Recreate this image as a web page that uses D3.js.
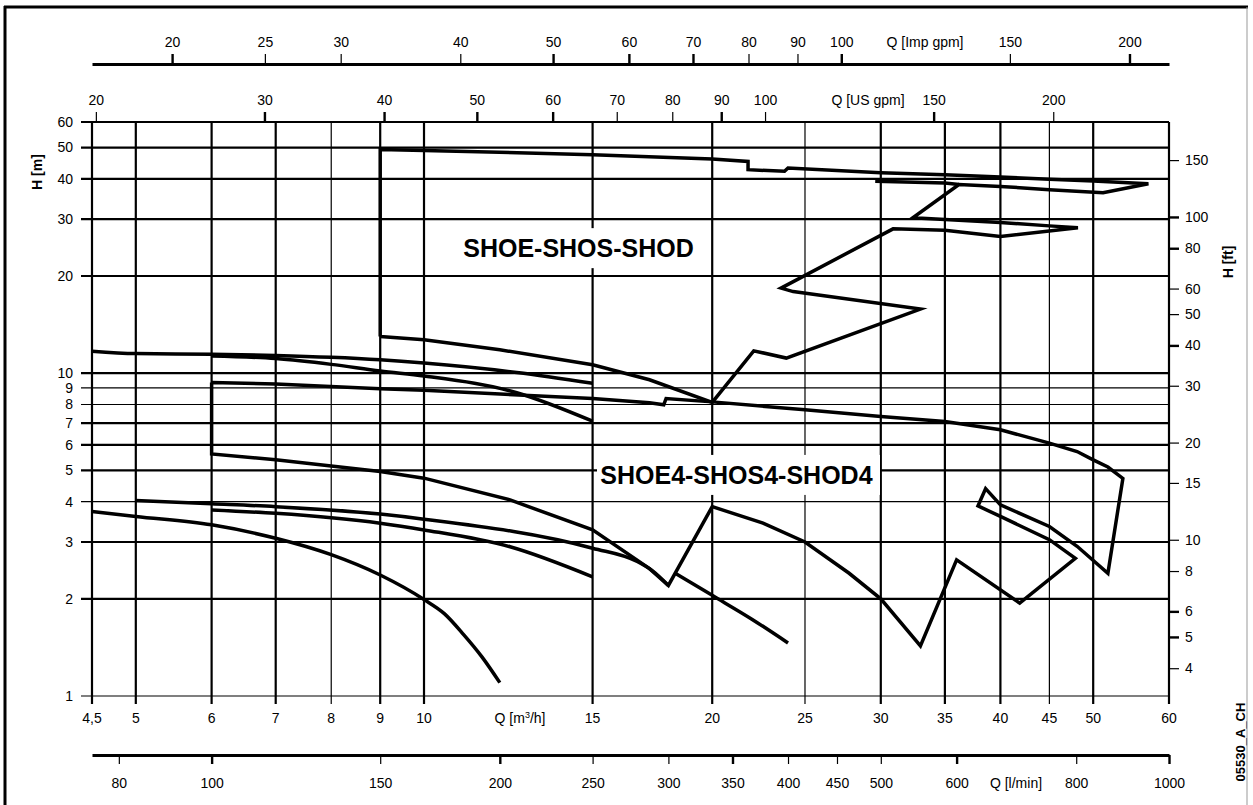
<!DOCTYPE html>
<html>
<head>
<meta charset="utf-8" />
<title></title>
<script src="https://d3js.org/d3.v7.min.js"></script>
<style>
	body {
		margin: 0;
		background: #fff;
	}

	svg text {
		font-family: "Liberation Sans", Arial, sans-serif;
		fill: #000;
	}

	.tick-label {
		font-size: 14px;
	}

	.title {
		font-size: 25px;
		font-weight: bold;
	}
</style>
</head>
<body>
<svg id="chart" width="1253" height="805"></svg>
<script>
	// flow Q [m3/h] grid
	var qTicks = [4.5, 5, 6, 7, 8, 9, 10, 15, 20, 25, 30, 35, 40, 45, 50, 60];
	var qLabels = ["4,5", "5", "6", "7", "8", "9", "10", "15", "20", "25", "30", "35", "40", "45", "50", "60"];
	var qThin = [8, 25, 45];
	// head H [m] grid
	var hTicks = [1, 2, 3, 4, 5, 6, 7, 8, 9, 10, 20, 30, 40, 50, 60];
	var hThin = [1, 4, 8, 9];
	// secondary scales
	var usTicks = [20, 30, 40, 50, 60, 70, 80, 90, 100, 150, 200];
	var impTicks = [20, 25, 30, 40, 50, 60, 70, 80, 90, 100, 150, 200];
	var lminTicks = [80, 100, 150, 200, 250, 300, 350, 400, 450, 500, 600, 800, 1000];
	var ftTicks = [150, 100, 80, 60, 50, 40, 30, 20, 15, 10, 8, 6, 5, 4];

	// curves, [Q m3/h, H m]
	var shoeOutline = [[9, 13.0], [9, 49.3], [10, 49.0], [15, 47.5], [20, 46.1], [21.8, 45.3], [21.8, 42.7], [23.8, 42.2], [24, 43.2],
		[30, 41.8], [35, 41.2], [40, 40.5], [45, 39.9], [50, 39.4], [57.1, 38.6], [51.2, 36.2], [45, 37.0], [40, 37.9], [36.2, 38.4],
		[32.4, 30.3], [40, 29.3], [45, 28.6], [48.2, 28.2], [40, 26.5], [35, 27.7], [30.9, 28.0], [23.6, 18.35], [24.3, 17.9],
		[33.0, 15.8], [23.9, 11.14], [22.1, 11.73], [20, 8.12], [17.2, 9.54], [15, 10.62], [12, 11.82], [10, 12.69], [9, 13.0]];
	var shoeStub = [[36.2, 38.4], [35, 38.8], [29.6, 39.3]];
	var shoe4Outline = [[6, 9.36], [7, 9.25], [9, 8.95], [10, 8.85], [15, 8.35], [17.2, 8.1], [17.8, 7.98], [17.9, 8.35], [20, 8.15],
		[25, 7.7], [30, 7.34], [35, 7.09], [40, 6.68], [45, 6.07], [48.1, 5.72], [50, 5.39], [51.8, 5.12], [53.7, 4.72],
		[51.8, 2.4], [48.1, 2.91], [45, 3.35], [40, 3.91], [38.6, 4.39], [37.9, 3.88], [40, 3.6], [45, 3.05], [47.9, 2.67],
		[41.9, 1.94], [36, 2.64], [33, 1.43], [30, 2.0], [27.8, 2.4], [25, 3.0], [22.6, 3.43], [20, 3.86], [18, 2.2],
		[17.2, 2.48], [15, 3.27], [12.3, 4.05], [10, 4.73], [9, 4.96], [8, 5.16], [7, 5.39], [6, 5.62], [6, 9.36]];
	var curveE1 = [[4.5, 11.7], [5, 11.5], [6, 11.45], [7, 11.35], [8, 11.2], [9, 11.0], [10, 10.75], [12.5, 10.05], [15, 9.3]];
	var curveE2 = [[6, 11.3], [7, 11.1], [8, 10.65], [9, 10.15], [10, 9.8], [12.5, 8.7], [15, 7.1]];
	var curveD1 = [[5, 4.03], [6, 3.94], [7, 3.86], [9, 3.66], [10, 3.53], [15, 2.87], [16.7, 2.61], [17.3, 2.45], [18, 2.2]];
	var curveD2 = [[6, 3.77], [7, 3.68], [9, 3.43], [10, 3.27], [12.3, 2.9], [15, 2.34]];
	var curveD3 = [[4.5, 3.73], [5, 3.6], [6, 3.39], [7, 3.08], [8, 2.74], [9, 2.37], [10, 1.99], [10.5, 1.8], [11, 1.55], [11.5, 1.32], [12, 1.1]];
	var curveD4 = [[18.3, 2.4], [20, 2.05], [22, 1.73], [24, 1.46]];

	var svg = d3.select("#chart"),
		margin = { top: 122, left: 92, bottom: 109, right: 84 },
		width = +svg.attr("width"),
		height = +svg.attr("height");

	var plotL = margin.left, plotR = width - margin.right,
		plotB = height - margin.bottom, plotT = margin.top;

	var x = d3.scaleLog().domain([4.5, 60]).range([plotL, plotR]);
	var y = d3.scaleLog().domain([1, 60]).range([plotB, plotT]);
	var xUS = d3.scaleLog().domain(x.domain().map(d => d / 0.2271)).range(x.range());
	var xImp = d3.scaleLog().domain(x.domain().map(d => d / 0.2728)).range(x.range());
	var xL = d3.scaleLog().domain(x.domain().map(d => d * 1000 / 60)).range(x.range());
	var yFt = d3.scaleLog().domain(y.domain().map(d => d * 3.28084)).range(y.range());

	// frame
	svg.append("line").attr("x1", 5).attr("x2", 5).attr("y1", 6).attr("y2", 805).attr("stroke", "#000").attr("stroke-width", 3);
	svg.append("line").attr("x1", 4).attr("x2", 1248).attr("y1", 7).attr("y2", 7).attr("stroke", "#000").attr("stroke-width", 3);
	svg.append("line").attr("x1", 1247).attr("x2", 1247).attr("y1", 7).attr("y2", 805).attr("stroke", "#999").attr("stroke-width", 1);

	// grid
	svg.append("g").selectAll("line").data(qTicks).join("line")
		.attr("x1", d => x(d)).attr("x2", d => x(d))
		.attr("y1", plotT).attr("y2", plotB + 8)
		.attr("stroke", "#000")
		.attr("stroke-width", d => qThin.includes(d) ? 1.2 : 2.2);

	svg.append("g").selectAll("line").data(hTicks).join("line")
		.attr("x1", plotL - 11).attr("x2", plotR)
		.attr("y1", d => y(d)).attr("y2", d => y(d))
		.attr("stroke", "#000")
		.attr("stroke-width", d => hThin.includes(d) ? 1.2 : 2.2);

	svg.append("g").selectAll("text").data(qTicks).join("text")
		.attr("class", "tick-label")
		.attr("x", d => x(d)).attr("y", plotB + 27)
		.attr("text-anchor", "middle")
		.text((d, i) => qLabels[i]);

	svg.append("g").selectAll("text").data(hTicks).join("text")
		.attr("class", "tick-label")
		.attr("x", plotL - 19).attr("y", d => y(d))
		.attr("dy", "0.35em")
		.attr("text-anchor", "end")
		.text(d => d);

	function styleAxis(g, thick) {
		g.attr("font-size", null).attr("font-family", null);
		g.selectAll(".tick text").attr("class", "tick-label");
		g.selectAll(".tick line").attr("stroke", "#000").attr("stroke-width", d => thick.includes(d) ? 2.4 : 1.2);
	}

	// US gpm (on plot top)
	var gUS = svg.append("g").attr("transform", `translate(0,${plotT})`)
		.call(d3.axisTop(xUS).tickValues(usTicks).tickFormat(d3.format("d")).tickSize(10).tickPadding(7));
	gUS.select(".domain").remove();
	styleAxis(gUS, [30, 40, 50, 60, 90, 150]);

	// Imp gpm
	var gImp = svg.append("g").attr("transform", "translate(0,64)")
		.call(d3.axisTop(xImp).tickValues(impTicks).tickFormat(d3.format("d")).tickSize(10).tickSizeOuter(0).tickPadding(7));
	gImp.select(".domain").attr("stroke", "#000").attr("stroke-width", 3);
	styleAxis(gImp, [20, 50, 60, 70, 100, 200]);

	// l/min
	var gL = svg.append("g").attr("transform", "translate(0,755)")
		.call(d3.axisBottom(xL).tickValues(lminTicks).tickFormat(d3.format("d")).tickSize(9).tickSizeOuter(0).tickPadding(14));
	gL.select(".domain").attr("stroke", "#000").attr("stroke-width", 3);
	styleAxis(gL, [100, 200, 350, 600, 1000]);

	// H ft
	var gFt = svg.append("g").attr("transform", `translate(${plotR},0)`)
		.call(d3.axisRight(yFt).tickValues(ftTicks).tickFormat(d3.format("d")).tickSize(10).tickPadding(6));
	gFt.select(".domain").remove();
	styleAxis(gFt, [100, 80, 40, 6, 5]);

	// unit labels
	svg.append("text").attr("class", "tick-label").attr("x", 868).attr("y", 105).attr("text-anchor", "middle").text("Q [US gpm]");
	svg.append("text").attr("class", "tick-label").attr("x", 925).attr("y", 47).attr("text-anchor", "middle").text("Q [Imp gpm]");
	svg.append("text").attr("class", "tick-label").attr("x", 1016).attr("y", 788).attr("text-anchor", "middle").text("Q [l/min]");
	var qm = svg.append("text").attr("class", "tick-label").attr("x", 520).attr("y", plotB + 27).attr("text-anchor", "middle");
	qm.append("tspan").text("Q [m");
	qm.append("tspan").attr("font-size", "9px").attr("dy", "-5").text("3");
	qm.append("tspan").attr("dy", "5").text("/h]");

	svg.append("text").attr("class", "tick-label").attr("font-weight", "bold")
		.attr("transform", "translate(42,172) rotate(-90)").attr("text-anchor", "middle").text("H [m]");
	svg.append("text").attr("class", "tick-label").attr("font-weight", "bold")
		.attr("transform", "translate(1233,262) rotate(-90)").attr("text-anchor", "middle").text("H [ft]");
	svg.append("text").attr("font-size", "13px").attr("font-weight", "bold")
		.attr("transform", "translate(1245,742) rotate(-90)").attr("text-anchor", "middle").text("05530_A_CH");

	// series titles with white boxes
	var titles = [
		{ name: "SHOE-SHOS-SHOD", q: 14.5, h: 24.4, x0: 455, x1: 700 },
		{ name: "SHOE4-SHOS4-SHOD4", q: 21.2, h: 4.84, x0: 597, x1: 880 }
	];
	titles.forEach(function (t) {
		var cy = y(t.h);
		svg.append("rect").attr("x", t.x0).attr("width", t.x1 - t.x0)
			.attr("y", cy - 20).attr("height", 40).attr("fill", "#fff");
		svg.append("text").attr("class", "title")
			.attr("x", x(t.q)).attr("y", cy).attr("dy", "0.35em")
			.attr("text-anchor", "middle").text(t.name);
	});

	// curves
	var line = d3.line().x(d => x(d[0])).y(d => y(d[1]));
	var smooth = d3.line().x(d => x(d[0])).y(d => y(d[1])).curve(d3.curveMonotoneX);
	var outlines = [shoeOutline, shoeStub, shoe4Outline];
	var curves = [curveE1, curveE2, curveD1, curveD2, curveD3, curveD4];

	var gc = svg.append("g")
		.attr("fill", "none")
		.attr("stroke", "#000")
		.attr("stroke-width", 3.5)
		.attr("stroke-linejoin", "miter")
		.attr("stroke-miterlimit", 6);
	gc.selectAll("path.outline").data(outlines).join("path").attr("class", "outline").attr("d", line);
	gc.selectAll("path.curve").data(curves).join("path").attr("class", "curve").attr("d", smooth);
</script>
</body>
</html>
